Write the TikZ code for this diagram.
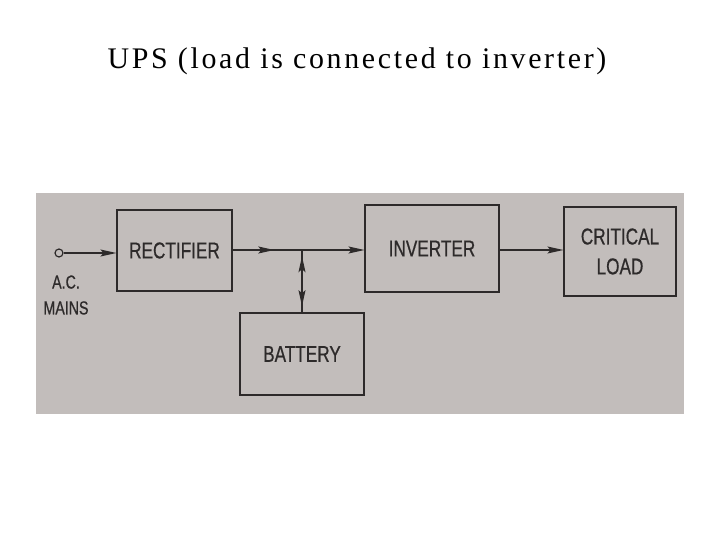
\documentclass[tikz,border=0pt]{standalone}
\usepackage{fontspec}
\usepackage{xcolor}
\usepackage{tikz}
\usetikzlibrary{decorations.markings,arrows.meta}

\newfontfamily\titlefont[LetterSpace=9]{Liberation Serif}
\newfontfamily\diagfont[FakeStretch=0.75,FakeBold=0.6]{Liberation Sans}

\definecolor{paper}{RGB}{194,189,187}
\definecolor{ink}{RGB}{45,42,42}

\tikzset{
    >={Stealth[length=16pt,width=7pt,inset=3pt]},
    block/.style={draw=ink, line width=1.6pt, inner sep=0pt, text=ink,
                  font=\diagfont\fontsize{23}{30}\selectfont, align=center},
    wire/.style={draw=ink, line width=1.3pt},
    midtip/.style={postaction=decorate, decoration={markings,
                   mark=at position #1 with {\arrow{>}}}}
}

\begin{document}
\begin{tikzpicture}[x=1bp,y=-1bp]
    \useasboundingbox (0,0) rectangle (720,540);

    % title
    \node (title) at (357,61) {\titlefont\fontsize{30}{34}\selectfont UPS (load is connected to inverter)};

    % photo of the diagram
    \fill[paper] (36,193) rectangle (684,414);

    \node[block, minimum width=115, minimum height=81] (rect) at (174.5,250.5) {RECTIFIER};
    \node[block, minimum width=134, minimum height=87] (inv) at (432,248.5) {INVERTER};
    \node[block, minimum width=112, minimum height=89] (load) at (620,251.5) {CRITICAL\\LOAD};
    \node[block, minimum width=124, minimum height=82] (bat) at (302,354) {BATTERY};

    \node[draw=ink, line width=1.2pt, circle, minimum size=8, inner sep=0pt] (ac) at (59,253) {};
    \node[text=ink, font=\diagfont\fontsize{19}{26}\selectfont, align=center] (mains) at (66,295) {A.C.\\MAINS};
    \coordinate (jn) at (302,250);

    % connections
    \draw[wire, ->] (ac) -- (rect.west |- ac);
    \draw[wire, midtip=0.6] (rect.east |- jn) -- (jn);
    \draw[wire, ->] (jn) -- (inv.west |- jn);
    \draw[wire, ->] (inv.east |- jn) -- (load.west |- jn);
    \draw[wire, midtip=0.9] (bat.north) -- (jn);
    \draw[wire, midtip=0.9] (jn) -- (bat.north);
\end{tikzpicture}
\end{document}
